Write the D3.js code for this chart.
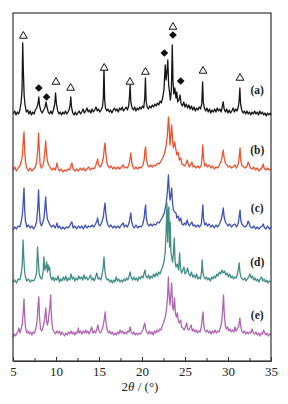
<!DOCTYPE html>
<meta charset="utf-8">
<head>
	<title>XRD patterns</title>
	<script type="text/javascript" src="https://cdn.jsdelivr.net/npm/d3@7"></script>
	<style>
		body { margin: 0; background: #fff; }
		.tick text { font-family: "Liberation Serif", "DejaVu Serif", serif; font-size: 13px; fill: #222; }
		.tick line, .domain { stroke: #333; }
		.label { font-family: "Liberation Serif", serif; font-size: 11.5px; font-weight: bold; fill: #222; }
	</style>
</head>
<body>
	<div id="chart"></div>
	<script>

		// x ticks
		var majorTicks = [5, 10, 15, 20, 25, 30, 35];
		var minorTicks = [7.5, 12.5, 17.5, 22.5, 27.5, 32.5];

		// sample names, colours and vertical offsets (intensity units)
		var names = ["(a)", "(b)", "(c)", "(d)", "(e)"];
		var colors = ["#151515", "#f0502c", "#3d52b4", "#3f8d84", "#b163b4"];
		var offsets = [251, 191, 133, 79, 26];

		// patterns: [2theta, intensity above own baseline]
		var seriesA = [[5.0,-4],[5.2,-1],[5.35,-5],[5.5,-2],[5.65,-4],[5.8,0],[5.95,8],[6.05,20],[6.13,67],[6.2,40],[6.3,14],[6.4,5],[6.55,-2],[6.7,0],[6.85,-4],[7.0,-1],[7.15,-5],[7.3,-2],[7.45,-4],[7.6,0],[7.75,2],[7.9,6],[8.0,13],[8.1,4],[8.25,-1],[8.4,-3],[8.55,0],[8.7,2],[8.85,8],[8.95,3],[9.1,-2],[9.25,-4],[9.4,-1],[9.55,-4],[9.7,0],[9.85,6],[9.95,17],[10.05,6],[10.2,-1],[10.35,-4],[10.5,-2],[10.65,-5],[10.8,-2],[10.95,-4],[11.1,-1],[11.25,-4],[11.4,-2],[11.55,1],[11.65,6],[11.72,13],[11.8,3],[11.95,-3],[12.1,-5],[12.25,-2],[12.4,-5],[12.55,-3],[12.7,-1],[12.85,-4],[13.0,-2],[13.15,1],[13.3,-3],[13.45,-1],[13.6,2],[13.75,-2],[13.9,0],[14.05,-3],[14.2,1],[14.35,-2],[14.5,0],[14.65,3],[14.8,-1],[14.95,1],[15.1,-2],[15.25,0],[15.4,3],[15.5,12],[15.58,42],[15.66,10],[15.75,2],[15.9,-1],[16.05,1],[16.2,-2],[16.35,0],[16.5,-3],[16.65,0],[16.8,2],[16.95,-1],[17.1,1],[17.25,-2],[17.4,2],[17.55,0],[17.7,3],[17.85,-1],[18.0,1],[18.15,3],[18.3,0],[18.45,4],[18.55,14],[18.62,25],[18.7,8],[18.85,2],[19.0,0],[19.15,3],[19.3,-1],[19.45,2],[19.6,0],[19.75,3],[19.9,1],[20.05,4],[20.2,2],[20.32,12],[20.4,32],[20.48,9],[20.6,3],[20.75,1],[20.9,4],[21.05,2],[21.2,5],[21.35,3],[21.5,6],[21.65,4],[21.8,7],[21.95,5],[22.1,9],[22.25,7],[22.4,12],[22.55,20],[22.7,45],[22.8,30],[22.9,38],[23.0,50],[23.1,25],[23.2,18],[23.3,10],[23.42,20],[23.52,65],[23.6,30],[23.7,16],[23.82,22],[23.95,12],[24.05,18],[24.15,8],[24.3,10],[24.42,15],[24.55,6],[24.7,4],[24.85,8],[25.0,3],[25.15,6],[25.3,2],[25.45,5],[25.6,1],[25.75,4],[25.9,0],[26.05,3],[26.2,-1],[26.35,2],[26.5,0],[26.65,3],[26.8,1],[26.95,6],[27.05,28],[27.13,8],[27.25,2],[27.4,-1],[27.55,2],[27.7,-2],[27.85,1],[28.0,-3],[28.15,0],[28.3,-2],[28.45,1],[28.6,-2],[28.75,2],[28.9,-1],[29.05,1],[29.2,-2],[29.35,4],[29.45,8],[29.55,1],[29.7,-2],[29.85,1],[30.0,-3],[30.15,0],[30.3,-3],[30.45,-1],[30.6,2],[30.75,-2],[30.9,1],[31.05,-1],[31.2,3],[31.3,10],[31.38,22],[31.46,6],[31.6,0],[31.75,-3],[31.9,-1],[32.05,-4],[32.2,-1],[32.35,-4],[32.5,-2],[32.65,-5],[32.8,-2],[32.95,-4],[33.1,-1],[33.25,-4],[33.4,-2],[33.55,-5],[33.7,-1],[33.85,-4],[34.0,-2],[34.15,-5],[34.3,-3],[34.45,-6],[34.6,-3],[34.75,-5],[34.9,-3],[35.0,-5]];

		var seriesB = [[5.0,0],[5.2,3],[5.4,-1],[5.6,2],[5.8,4],[5.95,8],[6.1,15],[6.2,30],[6.28,38],[6.36,20],[6.45,8],[6.6,2],[6.8,-1],[7.0,2],[7.2,-1],[7.4,1],[7.6,3],[7.75,8],[7.88,20],[7.97,37],[8.05,22],[8.15,6],[8.3,2],[8.45,4],[8.6,9],[8.72,20],[8.8,29],[8.88,18],[9.0,9],[9.15,5],[9.3,3],[9.5,0],[9.7,2],[9.9,0],[10.05,4],[10.12,7],[10.25,1],[10.4,-1],[10.6,1],[10.8,-2],[11.0,0],[11.2,-1],[11.4,1],[11.6,0],[11.75,5],[11.85,7],[12.0,1],[12.2,-1],[12.4,1],[12.6,-1],[12.8,2],[13.0,0],[13.2,2],[13.4,-1],[13.6,1],[13.8,3],[14.0,0],[14.2,2],[14.4,1],[14.6,4],[14.75,8],[14.85,11],[14.95,5],[15.1,3],[15.3,5],[15.5,12],[15.62,22],[15.7,27],[15.78,18],[15.9,8],[16.05,4],[16.2,2],[16.4,4],[16.6,1],[16.8,3],[17.0,1],[17.2,3],[17.4,1],[17.6,3],[17.8,5],[17.95,2],[18.1,3],[18.3,2],[18.5,6],[18.62,12],[18.7,17],[18.8,8],[18.95,3],[19.1,1],[19.3,3],[19.5,1],[19.7,3],[19.9,2],[20.1,5],[20.25,10],[20.35,20],[20.42,23],[20.5,12],[20.65,5],[20.8,3],[21.0,5],[21.2,3],[21.4,5],[21.6,4],[21.8,7],[22.0,6],[22.2,9],[22.4,12],[22.6,16],[22.8,24],[22.95,35],[23.08,53],[23.15,45],[23.25,25],[23.35,35],[23.45,45],[23.55,30],[23.65,22],[23.8,28],[23.95,20],[24.05,15],[24.2,18],[24.35,10],[24.5,12],[24.65,6],[24.8,5],[24.95,4],[25.1,6],[25.25,10],[25.35,7],[25.5,3],[25.65,5],[25.8,8],[25.95,3],[26.1,4],[26.3,2],[26.5,4],[26.7,2],[26.9,5],[27.0,15],[27.07,25],[27.15,12],[27.3,4],[27.45,6],[27.6,3],[27.8,5],[28.0,2],[28.2,4],[28.4,1],[28.6,3],[28.8,2],[29.0,5],[29.2,9],[29.35,15],[29.45,20],[29.55,12],[29.7,7],[29.85,5],[30.0,3],[30.2,4],[30.4,2],[30.6,3],[30.8,5],[31.0,2],[31.2,6],[31.32,15],[31.4,22],[31.48,10],[31.6,5],[31.8,3],[32.0,2],[32.2,4],[32.35,8],[32.45,6],[32.6,2],[32.8,1],[33.0,3],[33.2,0],[33.4,2],[33.6,-1],[33.8,1],[34.0,3],[34.1,6],[34.2,2],[34.4,0],[34.6,2],[34.8,0],[35.0,1]];

		var seriesC = [[5.0,-2],[5.2,1],[5.4,-1],[5.6,2],[5.8,1],[5.95,6],[6.1,14],[6.2,28],[6.28,40],[6.36,18],[6.45,7],[6.6,1],[6.8,3],[7.0,0],[7.2,2],[7.4,-1],[7.6,2],[7.75,7],[7.88,20],[7.97,38],[8.05,20],[8.15,6],[8.3,2],[8.45,5],[8.6,10],[8.72,22],[8.8,31],[8.88,18],[9.0,9],[9.15,6],[9.3,3],[9.5,1],[9.7,3],[9.9,0],[10.05,3],[10.12,5],[10.25,0],[10.4,2],[10.6,-1],[10.8,1],[11.0,-1],[11.2,1],[11.4,0],[11.6,2],[11.75,5],[11.85,6],[12.0,0],[12.2,2],[12.4,-1],[12.6,2],[12.8,0],[13.0,2],[13.2,-1],[13.4,3],[13.6,0],[13.8,2],[14.0,1],[14.2,3],[14.4,1],[14.6,4],[14.75,7],[14.85,10],[14.95,4],[15.1,2],[15.3,5],[15.5,11],[15.62,20],[15.7,25],[15.78,16],[15.9,7],[16.05,3],[16.2,1],[16.4,3],[16.6,0],[16.8,2],[17.0,0],[17.2,2],[17.4,0],[17.6,3],[17.8,5],[17.95,1],[18.1,3],[18.3,1],[18.5,5],[18.62,11],[18.7,15],[18.8,6],[18.95,2],[19.1,0],[19.3,3],[19.5,0],[19.7,2],[19.9,1],[20.1,4],[20.25,10],[20.35,19],[20.42,23],[20.5,10],[20.65,4],[20.8,2],[21.0,4],[21.2,2],[21.4,4],[21.6,3],[21.8,6],[22.0,5],[22.2,8],[22.4,11],[22.6,15],[22.8,24],[22.95,36],[23.07,53],[23.15,40],[23.25,28],[23.35,32],[23.45,40],[23.55,25],[23.65,18],[23.8,16],[23.95,15],[24.05,10],[24.2,12],[24.35,7],[24.5,10],[24.65,4],[24.8,3],[24.95,5],[25.1,3],[25.25,8],[25.35,5],[25.5,2],[25.65,4],[25.8,6],[25.95,2],[26.1,3],[26.3,1],[26.5,3],[26.7,1],[26.9,4],[27.0,14],[27.07,23],[27.15,10],[27.3,3],[27.45,5],[27.6,2],[27.8,4],[28.0,1],[28.2,3],[28.4,0],[28.6,3],[28.8,1],[29.0,4],[29.2,8],[29.35,14],[29.45,20],[29.55,11],[29.7,6],[29.85,4],[30.0,2],[30.2,4],[30.4,1],[30.6,3],[30.8,4],[31.0,1],[31.2,5],[31.32,13],[31.4,18],[31.48,8],[31.6,4],[31.8,2],[32.0,1],[32.2,3],[32.35,7],[32.45,5],[32.6,1],[32.8,0],[33.0,2],[33.2,-1],[33.4,1],[33.6,-1],[33.8,1],[34.0,2],[34.1,4],[34.2,1],[34.4,-1],[34.6,2],[34.8,-1],[35.0,1]];

		var seriesD = [[5.0,0],[5.2,2],[5.4,-1],[5.6,3],[5.8,2],[5.95,8],[6.08,18],[6.17,42],[6.25,25],[6.35,10],[6.45,5],[6.6,1],[6.8,3],[7.0,0],[7.2,2],[7.4,1],[7.6,4],[7.75,10],[7.85,35],[7.95,20],[8.05,8],[8.2,4],[8.35,3],[8.5,10],[8.6,25],[8.7,12],[8.8,14],[8.92,20],[9.0,10],[9.08,17],[9.15,12],[9.25,15],[9.35,6],[9.5,2],[9.65,5],[9.8,1],[9.95,4],[10.1,2],[10.25,6],[10.4,0],[10.55,3],[10.7,1],[10.85,5],[11.0,2],[11.15,6],[11.3,1],[11.45,4],[11.6,2],[11.75,8],[11.9,3],[12.05,5],[12.2,1],[12.35,4],[12.5,2],[12.65,6],[12.8,3],[12.95,5],[13.1,2],[13.25,7],[13.4,3],[13.55,5],[13.7,2],[13.85,4],[14.0,7],[14.15,2],[14.3,4],[14.45,1],[14.6,5],[14.75,9],[14.9,3],[15.05,4],[15.2,2],[15.35,7],[15.48,14],[15.58,25],[15.68,12],[15.8,5],[15.95,2],[16.1,3],[16.25,0],[16.4,2],[16.55,-1],[16.7,2],[16.85,0],[17.0,5],[17.15,1],[17.3,3],[17.45,0],[17.6,2],[17.75,0],[17.9,3],[18.05,1],[18.2,4],[18.35,2],[18.5,6],[18.62,10],[18.75,4],[18.9,2],[19.05,5],[19.2,2],[19.35,4],[19.5,1],[19.65,5],[19.8,3],[19.95,6],[20.1,4],[20.25,9],[20.35,12],[20.45,6],[20.6,4],[20.75,7],[20.9,3],[21.05,6],[21.2,4],[21.35,8],[21.5,5],[21.65,9],[21.8,6],[21.95,10],[22.1,8],[22.25,12],[22.4,15],[22.55,20],[22.7,30],[22.82,55],[22.9,79],[22.98,40],[23.05,70],[23.12,75],[23.2,35],[23.28,60],[23.36,30],[23.45,25],[23.55,20],[23.65,28],[23.75,44],[23.85,20],[23.95,15],[24.1,18],[24.25,12],[24.38,29],[24.47,14],[24.6,9],[24.75,12],[24.88,15],[25.0,8],[25.15,10],[25.3,14],[25.45,8],[25.6,6],[25.75,10],[25.9,5],[26.05,7],[26.2,4],[26.35,8],[26.5,3],[26.65,5],[26.8,3],[26.92,10],[27.0,22],[27.08,10],[27.2,5],[27.35,3],[27.5,5],[27.65,2],[27.8,4],[27.95,1],[28.1,5],[28.25,3],[28.4,6],[28.55,4],[28.7,8],[28.85,6],[29.0,10],[29.15,8],[29.3,12],[29.45,9],[29.6,11],[29.75,7],[29.9,9],[30.05,5],[30.2,8],[30.35,4],[30.5,6],[30.65,3],[30.8,5],[30.95,4],[31.1,8],[31.22,14],[31.3,19],[31.38,10],[31.5,5],[31.65,3],[31.8,2],[31.95,4],[32.1,1],[32.25,3],[32.4,5],[32.55,8],[32.7,4],[32.85,6],[33.0,2],[33.15,4],[33.3,1],[33.45,3],[33.6,0],[33.75,3],[33.9,5],[34.05,1],[34.2,3],[34.35,0],[34.5,2],[34.65,-1],[34.8,1],[35.0,0]];

		var seriesE = [[5.0,-2],[5.15,1],[5.3,-1],[5.45,2],[5.6,4],[5.7,7],[5.8,2],[5.95,6],[6.1,12],[6.2,25],[6.28,36],[6.36,18],[6.45,8],[6.6,2],[6.75,4],[6.9,1],[7.05,3],[7.2,0],[7.35,3],[7.5,2],[7.65,6],[7.8,14],[7.92,30],[8.0,38],[8.08,18],[8.2,6],[8.35,4],[8.5,8],[8.65,14],[8.75,22],[8.82,27],[8.9,14],[9.0,10],[9.1,14],[9.2,22],[9.3,30],[9.38,40],[9.45,22],[9.55,10],[9.65,5],[9.8,3],[9.95,1],[10.1,4],[10.25,2],[10.4,4],[10.55,0],[10.7,3],[10.85,1],[11.0,-1],[11.15,2],[11.3,0],[11.45,3],[11.6,1],[11.75,4],[11.9,1],[12.05,3],[12.2,0],[12.35,3],[12.5,2],[12.6,7],[12.7,2],[12.85,4],[13.0,1],[13.15,4],[13.3,2],[13.45,5],[13.55,2],[13.7,4],[13.85,1],[14.0,4],[14.15,8],[14.3,2],[14.45,4],[14.6,2],[14.75,6],[14.88,10],[15.0,4],[15.15,2],[15.3,4],[15.45,8],[15.6,15],[15.72,23],[15.82,12],[15.95,5],[16.1,2],[16.25,4],[16.4,1],[16.55,3],[16.7,0],[16.85,2],[17.0,0],[17.15,3],[17.3,1],[17.45,5],[17.6,2],[17.75,4],[17.9,1],[18.05,3],[18.2,1],[18.35,4],[18.5,3],[18.62,8],[18.75,3],[18.9,1],[19.05,3],[19.2,0],[19.35,2],[19.5,0],[19.65,2],[19.8,1],[19.95,3],[20.1,5],[20.22,9],[20.32,12],[20.42,6],[20.55,3],[20.7,1],[20.85,4],[21.0,1],[21.15,3],[21.3,0],[21.45,4],[21.6,2],[21.75,5],[21.9,3],[22.05,6],[22.2,5],[22.35,9],[22.5,12],[22.65,16],[22.8,22],[22.95,35],[23.07,58],[23.15,40],[23.25,30],[23.35,40],[23.45,52],[23.55,28],[23.65,25],[23.78,37],[23.88,22],[24.0,18],[24.12,22],[24.22,14],[24.35,12],[24.5,15],[24.6,8],[24.75,7],[24.9,5],[25.05,8],[25.2,12],[25.3,6],[25.45,5],[25.6,8],[25.72,10],[25.85,4],[26.0,6],[26.15,3],[26.3,5],[26.45,2],[26.6,4],[26.75,3],[26.9,8],[27.02,18],[27.1,23],[27.18,10],[27.3,5],[27.45,3],[27.6,5],[27.75,2],[27.9,4],[28.05,1],[28.2,4],[28.35,2],[28.5,5],[28.65,2],[28.8,4],[28.95,3],[29.1,7],[29.25,12],[29.38,25],[29.48,40],[29.56,22],[29.68,10],[29.8,6],[29.95,8],[30.1,4],[30.25,6],[30.4,3],[30.55,5],[30.7,3],[30.82,8],[30.95,4],[31.1,6],[31.25,9],[31.38,17],[31.46,10],[31.6,4],[31.75,2],[31.9,4],[32.05,1],[32.2,3],[32.35,1],[32.5,3],[32.65,2],[32.8,6],[32.95,2],[33.1,1],[33.25,3],[33.4,0],[33.55,2],[33.7,-1],[33.85,2],[34.0,1],[34.15,5],[34.25,2],[34.4,0],[34.55,2],[34.7,-1],[34.85,1],[35.0,0]];

		var series = [seriesA, seriesB, seriesC, seriesD, seriesE];

		// phase marks over pattern (a): [2theta, intensity]
		var triangleMarks = [[6.2,325],[10.0,279],[11.7,273],[15.6,293],[18.6,279],[20.4,289],[23.6,334],[27.1,290],[31.4,283]];
		var diamondMarks = [[8.0,273],[8.9,264],[22.6,308],[23.6,326],[24.5,280]];

		// dimensions
		var margin = {top: 13, right: 17, bottom: 43, left: 13}
		  , width = 288 - margin.left - margin.right
		  , height = 404 - margin.top - margin.bottom;

		var svg = d3.select("#chart").append("svg")
			.attr("width", 288)
			.attr("height", 404)
			.append("g")
			.attr("transform", "translate(" + margin.left + "," + margin.top + ")");

		var x = d3.scaleLinear().domain([5, 35]).range([0, width]);
		var y = d3.scaleLinear().domain([0, 348]).range([height, 0]);

		// traces
		var line = d3.line()
			.x(function(d) { return x(d[0]); })
			.y(function(d) { return y(d[1] + d[2]); });

		series.forEach(function(s, i) {
			var pts = s.map(function(d) { return [d[0], d[1], offsets[i]]; });
			svg.append("path")
				.datum(pts)
				.attr("fill", "none")
				.attr("stroke", colors[i])
				.attr("stroke-width", 1.3)
				.attr("stroke-linejoin", "round")
				.attr("d", line);

			svg.append("text")
				.attr("class", "label")
				.attr("x", x(33.4))
				.attr("y", y(offsets[i] + 19))
				.attr("text-anchor", "middle")
				.attr("dominant-baseline", "middle")
				.text(names[i]);
		});

		// markers
		svg.selectAll(".tri").data(triangleMarks).enter().append("path")
			.attr("d", d3.symbol().type(d3.symbolTriangle).size(26))
			.attr("transform", function(d) { return "translate(" + x(d[0]) + "," + y(d[1]) + ")"; })
			.attr("fill", "#fff")
			.attr("stroke", "#111")
			.attr("stroke-width", 1);

		svg.selectAll(".dia").data(diamondMarks).enter().append("path")
			.attr("d", d3.symbol().type(d3.symbolSquare).size(30))
			.attr("transform", function(d) { return "translate(" + x(d[0]) + "," + y(d[1]) + ") rotate(45)"; })
			.attr("fill", "#111");

		// frame
		svg.append("rect")
			.attr("width", width)
			.attr("height", height)
			.attr("fill", "none")
			.attr("stroke", "#333")
			.attr("stroke-width", 1.2);

		// axes
		svg.append("g")
			.attr("transform", "translate(0," + height + ")")
			.call(d3.axisBottom(x).tickValues(minorTicks).tickSizeInner(-3).tickSizeOuter(0).tickFormat(""))
			.select(".domain").remove();

		var xAxis = svg.append("g")
			.attr("transform", "translate(0," + height + ")")
			.call(d3.axisBottom(x).tickValues(majorTicks).tickSizeInner(-4).tickSizeOuter(0).tickPadding(6));
		xAxis.select(".domain").attr("stroke-width", 1.2);

		// axis title
		var title = svg.append("text")
			.attr("x", width / 2 - 2)
			.attr("y", height + 30)
			.attr("text-anchor", "middle")
			.style("font-family", "'Liberation Serif', serif")
			.style("font-size", "13px")
			.attr("fill", "#222");
		title.append("tspan").text("2");
		title.append("tspan").style("font-style", "italic").text("θ");
		title.append("tspan").text(" / (°)");

	</script>
</body>
</html>
